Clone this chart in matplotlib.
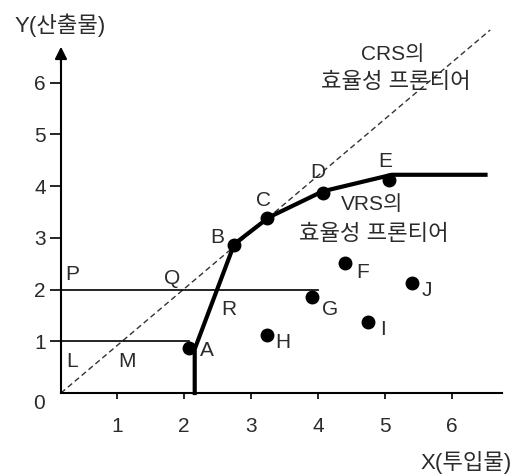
import matplotlib
matplotlib.use("Agg")
import matplotlib.pyplot as plt

plt.rcParams["font.family"] = ["Liberation Sans", "Noto Sans CJK KR", "DejaVu Sans"]

# decision making units
dmu_labels = ["A", "B", "C", "D", "E", "F", "G", "H", "I", "J"]
dmu_x = [2.08, 2.75, 3.24, 4.07, 5.06, 4.40, 3.91, 3.24, 4.74, 5.40]
dmu_y = [0.87, 2.86, 3.38, 3.87, 4.12, 2.51, 1.85, 1.12, 1.38, 2.12]
dmu_label_x = [2.34, 2.49, 3.18, 4.00, 5.00, 4.66, 4.18, 3.48, 4.97, 5.63]
dmu_label_y = [0.83, 3.00, 3.73, 4.26, 4.47, 2.34, 1.61, 0.97, 1.22, 1.99]

# VRS frontier
vrs_x = [2.16, 2.16, 2.75, 3.27, 4.07, 5.10, 6.50]
vrs_y = [0.0, 0.85, 2.88, 3.40, 3.90, 4.22, 4.22]

# CRS frontier
crs_x = [0.164, 6.57]
crs_y = [0.0, 7.02]

# reference lines for P and L
ref_levels = [2.0, 1.0]
ref_ends = [4.0, 2.08]

# helper labels
aux_labels = ["P", "Q", "R", "L", "M"]
aux_x = [0.33, 1.82, 2.67, 0.33, 1.15]
aux_y = [2.30, 2.22, 1.62, 0.60, 0.60]

ticks = [1, 2, 3, 4, 5, 6]
y_axis_x = 0.164
text_color = "#2b2b2b"
fs = 15
fs_kr = 16

fig = plt.figure(figsize=(5.16, 4.76), dpi=100)
ax = fig.add_axes([0, 0, 1, 1])
ax.set_xlim(-0.746, 6.955)
ax.set_ylim(-1.605, 7.60)

for s in ["top", "right"]:
    ax.spines[s].set_visible(False)
ax.spines["left"].set_position(("data", y_axis_x))
ax.spines["bottom"].set_position(("data", 0))
ax.spines["left"].set_bounds(0, 6.5)
ax.spines["bottom"].set_bounds(y_axis_x, 6.75)
ax.spines["left"].set_linewidth(1.5)
ax.spines["bottom"].set_linewidth(1.5)

ax.set_xticks(ticks)
ax.set_yticks(ticks)
ax.tick_params(axis="x", direction="out", length=4, width=1.2, pad=13,
               labelsize=fs, labelcolor=text_color)
ax.tick_params(axis="y", direction="out", length=8, width=1.2, pad=3,
               labelsize=fs, labelcolor=text_color)

# axis arrows
ax.annotate("", xy=(y_axis_x, 6.75), xytext=(y_axis_x, 6.3),
            arrowprops=dict(arrowstyle="-|>", color="black", lw=1.5,
                            mutation_scale=18))
ax.annotate("", xy=(6.97, 0), xytext=(6.5, 0),
            arrowprops=dict(arrowstyle="-|>", color="black", lw=1.5,
                            mutation_scale=18))

# CRS line
ax.plot(crs_x, crs_y, color="#333333", lw=1.0, ls=(0, (4, 2.5)))

# horizontal reference lines
for lev, end in zip(ref_levels, ref_ends):
    ax.plot([y_axis_x, end], [lev, lev], color="black", lw=1.2)

# VRS frontier
ax.plot(vrs_x, vrs_y, color="black", lw=3, solid_joinstyle="miter")

# DMU points
ax.plot(dmu_x, dmu_y, "o", color="black", markersize=9)
for lab, lx, ly in zip(dmu_labels, dmu_label_x, dmu_label_y):
    ax.text(lx, ly, lab, fontsize=fs, color=text_color, ha="center", va="center")

for lab, lx, ly in zip(aux_labels, aux_x, aux_y):
    ax.text(lx, ly, lab, fontsize=fs, color=text_color, ha="center", va="center")

ax.text(-0.16, -0.21, "0", fontsize=fs, color=text_color, ha="center", va="center")
ax.text(0.15, 7.12, "Y(산출물)", fontsize=fs_kr, color=text_color, ha="center", va="center")
ax.text(6.21, -1.35, "X(투입물)", fontsize=fs_kr, color=text_color, ha="center", va="center")

ax.text(5.12, 6.54, "CRS의", fontsize=fs, color=text_color, ha="center", va="center")
ax.text(5.16, 6.00, "효율성 프론티어", fontsize=fs_kr, color=text_color, ha="center", va="center")
ax.text(4.81, 3.64, "VRS의", fontsize=fs, color=text_color, ha="center", va="center")
ax.text(4.84, 3.06, "효율성 프론티어", fontsize=fs_kr, color=text_color, ha="center", va="center")

fig.savefig("out.png", dpi=100)
